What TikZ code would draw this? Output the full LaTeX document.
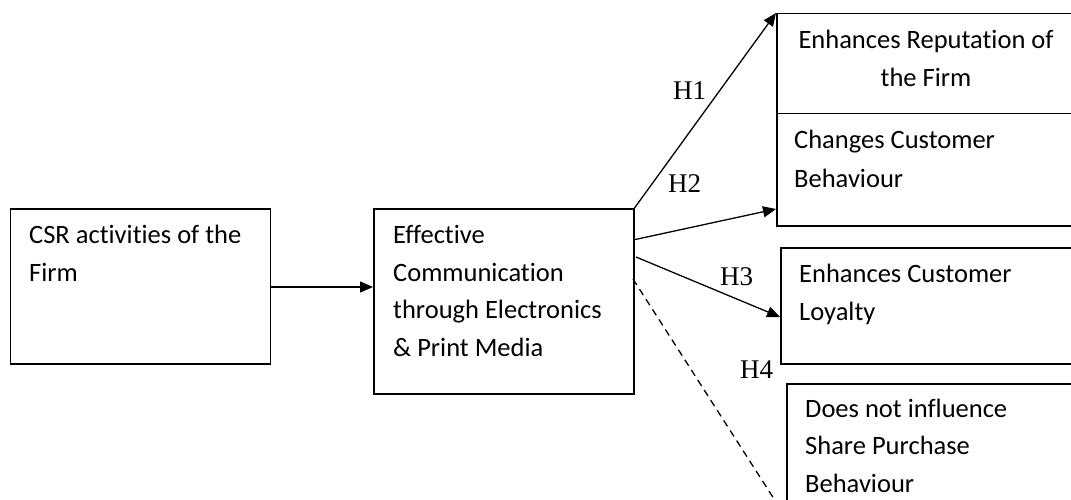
\documentclass[tikz,border=0pt]{standalone}
\usepackage{fontspec}
\setmainfont{Carlito}[Ligatures=NoCommon]
\newfontfamily\hfont{Liberation Serif}
\usetikzlibrary{arrows.meta}
\begin{document}
\begin{tikzpicture}[x=1pt,y=-1pt,
  box/.style={draw=black,line width=1.5pt,rectangle,inner sep=0pt,anchor=north west},
  txt/.style={inner sep=0pt,anchor=base west,font=\fontsize{26.5}{37.5}\selectfont},
  ctxt/.style={inner sep=0pt,anchor=base,font=\fontsize{26.5}{37.5}\selectfont},
  hlab/.style={inner sep=0pt,anchor=base west,font=\hfont\fontsize{27}{30}\selectfont},
  arr/.style={line width=1.3pt,-{Triangle[length=13pt,width=11pt]}},
  darr/.style={line width=1.3pt,dash pattern=on 7pt off 5pt}]
\useasboundingbox (0,0) rectangle (1071,500);
\clip (0,0) rectangle (1071,500);
% boxes
\node[box,minimum width=260pt,minimum height=155pt] (csr) at (9.5,208) {};
\node[box,minimum width=260pt,minimum height=185pt] (eff) at (373,208) {};
\node[box,minimum width=310pt,minimum height=100pt] (rep) at (776,13) {};
\node[box,minimum width=310pt,minimum height=112pt] (beh) at (776,113) {};
\node[box,minimum width=310pt,minimum height=116pt] (loy) at (780,247) {};
\node[box,minimum width=310pt,minimum height=130pt] (shr) at (786,383) {};
% texts
\node[txt] (t1) at (29,243) {CSR activities of the};
\node[txt] (t2) at (29,281) {Firm};
\node[txt] (e1) at (393,243) {Effective};
\node[txt] (e2) at (393,281) {Communication};
\node[txt] (e3) at (393,318) {through Electronics};
\node[txt] (e4) at (393,356) {\& Print Media};
\node[ctxt] (r1) at (926,49) {Enhances Reputation of};
\node[ctxt] (r2) at (926,87) {the Firm};
\node[txt] (b1) at (794,149) {Changes Customer};
\node[txt] (b2) at (794,187) {Behaviour};
\node[txt] (l1) at (799,282) {Enhances Customer};
\node[txt] (l2) at (799,320) {Loyalty};
\node[txt] (s1) at (805,417) {Does not influence};
\node[txt] (s2) at (805,454) {Share Purchase};
\node[txt] (s3) at (805,492) {Behaviour};
% labels
\node[hlab] (h1) at (673,100) {H1};
\node[hlab] (h2) at (668,193) {H2};
\node[hlab] (h3) at (720,285) {H3};
\node[hlab] (h4) at (740,378) {H4};
% connector end points
\coordinate (o2) at (633,240);
\coordinate (o3) at (636,257);
\coordinate (o4) at (633,279);
\coordinate (i2) at (776,209);
\coordinate (i3) at (780,317);
\coordinate (i4) at (776,502);
% connectors
\draw[arr] (csr.east |- 0,287) -- (eff.west |- 0,287);
\draw[arr] (eff.north east) -- (rep.north west);
\draw[arr] (o2) -- (i2);
\draw[arr] (o3) -- (i3);
\draw[darr] (o4) -- (i4);
\end{tikzpicture}
\end{document}
